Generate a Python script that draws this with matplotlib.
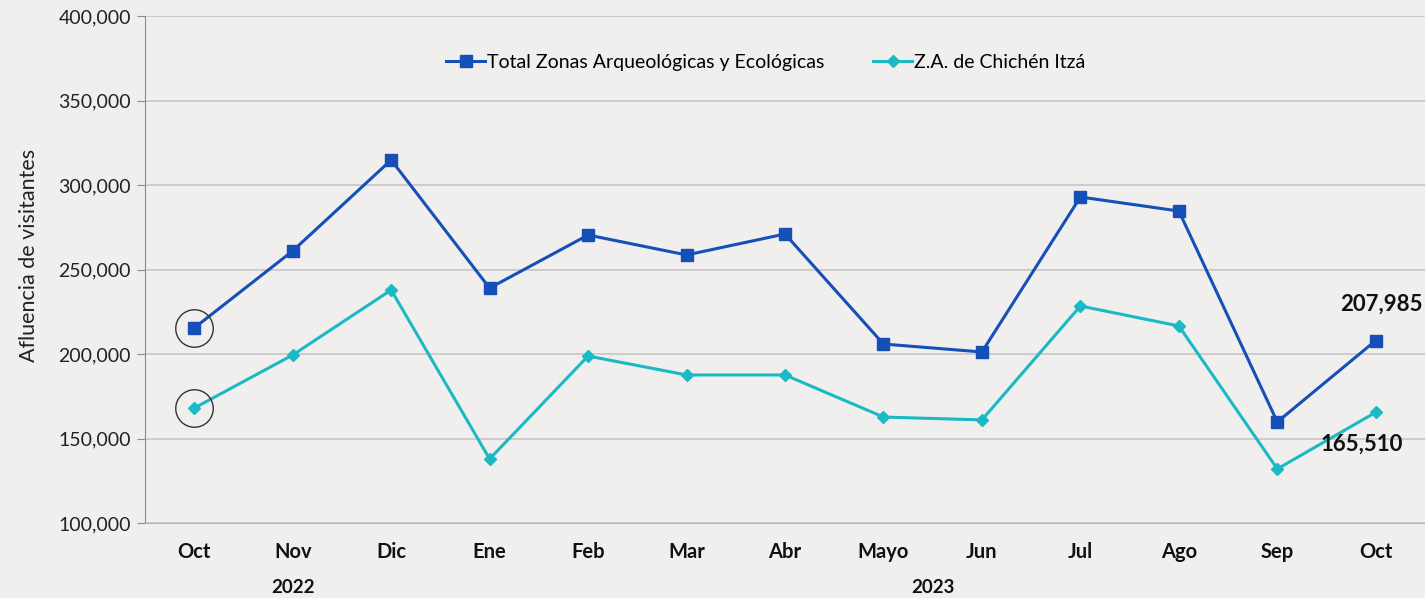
import matplotlib
matplotlib.use("Agg")
import matplotlib.pyplot as plt
from matplotlib.ticker import FuncFormatter

months = ["Oct", "Nov", "Dic", "Ene", "Feb", "Mar", "Abr", "Mayo", "Jun", "Jul", "Ago", "Sep", "Oct"]
total_zonas = [215400, 261000, 314800, 239000, 270400, 258600, 271000, 205900, 201200, 292900, 284600, 159800, 207985]
chichen_itza = [168000, 199400, 237900, 137900, 198800, 187600, 187600, 162700, 161000, 228400, 216600, 132000, 165510]
years = ["2022", "2023"]

plt.rcParams['font.family'] = ['Lato', 'DejaVu Sans']

bg = "#f0efed"
blue = "#1450b8"
cyan = "#1bb9c4"

fig = plt.figure(figsize=(14.25, 5.98), dpi=100, facecolor=bg)
ax = fig.add_axes([145/1425, 1-523/598, 1-145/1425, (523-16)/598])
ax.set_facecolor(bg)

x = list(range(len(months)))
ax.plot(x, total_zonas, color=blue, lw=2.2, marker="s", ms=8, label="Total Zonas Arqueológicas y Ecológicas", zorder=3)
ax.plot(x, chichen_itza, color=cyan, lw=2.2, marker="D", ms=6.5, label="Z.A. de Chichén Itzá", zorder=3)

# circles around first points
ax.plot([x[0]], [total_zonas[0]], marker="o", ms=27, mfc="none", mec="#333333", mew=1, zorder=4)
ax.plot([x[0]], [chichen_itza[0]], marker="o", ms=27, mfc="none", mec="#333333", mew=1, zorder=4)

ax.set_xlim(-0.5, len(months) - 0.5)
ax.set_ylim(100000, 400000)
ax.set_yticks(range(100000, 400001, 50000))
ax.yaxis.set_major_formatter(FuncFormatter(lambda v, p: f"{int(v):,}"))
ax.grid(axis="y", color="#c8c6c3", lw=1.2)
ax.set_axisbelow(True)
for s in ["top", "right"]:
    ax.spines[s].set_visible(False)
ax.spines["left"].set_color("#8a8a8a")
ax.spines["bottom"].set_color("#b5b3b0")
ax.tick_params(axis="y", length=6, color="#8a8a8a", labelsize=14, labelcolor="#222222", pad=4)
ax.tick_params(axis="x", length=0, labelsize=14.5, pad=14)
ax.set_xticks(x)
ax.set_xticklabels(months, fontweight="bold", color="#111111")

ax.set_ylabel("Afluencia de visitantes", fontsize=15.5, color="#222222")
ax.yaxis.set_label_coords(-0.083, 0.527)

# year labels
ax.text(1, -0.128, years[0], transform=ax.get_xaxis_transform(), ha="center", va="center",
        fontsize=13.5, fontweight="bold", color="#111111")
ax.text((3 + 12) / 2, -0.128, years[1], transform=ax.get_xaxis_transform(), ha="center", va="center",
        fontsize=13.5, fontweight="bold", color="#111111")

# value annotations
ax.annotate(f"{total_zonas[-1]:,}", (x[-1], total_zonas[-1]), xytext=(4, 26), textcoords="offset points",
            ha="center", va="center", fontsize=16, fontweight="bold", color="#111111")
ax.annotate(f"{chichen_itza[-1]:,}", (x[-1], chichen_itza[-1]), xytext=(-10, -23), textcoords="offset points",
            ha="center", va="center", fontsize=16, fontweight="bold", color="#111111")

leg = ax.legend(loc="upper center", bbox_to_anchor=(0.485, 0.96), ncol=2, frameon=False,
                fontsize=14, handlelength=2.0, handletextpad=0.1, columnspacing=2.5)

fig.savefig("out.png", dpi=100, facecolor=bg)
